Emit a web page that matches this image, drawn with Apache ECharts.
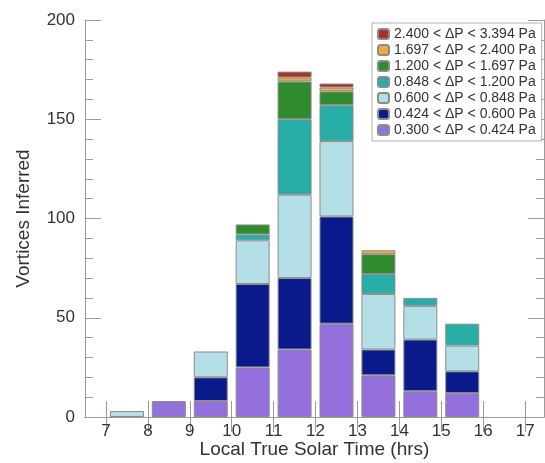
<!DOCTYPE html>
<html><head><meta charset="utf-8">
<script src="https://cdn.jsdelivr.net/npm/echarts@6/dist/echarts.min.js"></script>
<style>html,body{margin:0;padding:0;background:#fff}#c{width:545px;height:463px}</style>
</head><body><div id="c"></div>
<script>
// Hour bins (bar spans hour h to h+1)
const hourBins = ['7', '8', '9', '10', '11', '12', '13', '14', '15', '16'];
const xTickValues = [7, 8, 9, 10, 11, 12, 13, 14, 15, 16, 17];

// Series values (counts per bin), bottom to top of stack
const dp0300_0424 = [0, 8, 8, 25, 34, 47, 21, 13, 12, 0];
const dp0424_0600 = [0, 0, 12, 42, 36, 54, 13, 26, 11, 0];
const dp0600_0848 = [3, 0, 13, 22, 42, 38, 28, 17, 13, 0];
const dp0848_1200 = [0, 0, 0, 3, 38, 18, 10, 4, 11, 0];
const dp1200_1697 = [0, 0, 0, 5, 19, 7, 10, 0, 0, 0];
const dp1697_2400 = [0, 0, 0, 0, 2, 2, 2, 0, 0, 0];
const dp2400_3394 = [0, 0, 0, 0, 3, 2, 0, 0, 0, 0];

const seriesNames = [
  '0.300 < ΔP < 0.424 Pa',
  '0.424 < ΔP < 0.600 Pa',
  '0.600 < ΔP < 0.848 Pa',
  '0.848 < ΔP < 1.200 Pa',
  '1.200 < ΔP < 1.697 Pa',
  '1.697 < ΔP < 2.400 Pa',
  '2.400 < ΔP < 3.394 Pa'
];
const seriesValues = [dp0300_0424, dp0424_0600, dp0600_0848, dp0848_1200, dp1200_1697, dp1697_2400, dp2400_3394];
const seriesColors = ['#9370db', '#0b1a8a', '#b4dfe6', '#26aea6', '#2e8b2e', '#f2a93b', '#a8322a'];

const axisGray = '#9a9a9a';
const labelColor = '#333';
const fontFam = 'Liberation Sans, Arial, sans-serif';

// layout of the visible frame
const W = 545, H = 463;
const gLeft = 85, gRight = 1, gTop = 20, gBottom = 46;
const xMin = 6.5, xMax = 17.45;
const pxPerHour = (W - gLeft - gRight) / (xMax - xMin);
const barGridLeft = gLeft + (7 - xMin) * pxPerHour;
const barGridRight = gRight + (xMax - 17) * pxPerHour;

const series = seriesNames.map((name, i) => ({
  name: name,
  type: 'bar',
  stack: 'total',
  xAxisIndex: 2,
  yAxisIndex: 2,
  barWidth: 34,
  itemStyle: { color: seriesColors[i], borderColor: '#8c8c8c', borderWidth: 1 },
  data: seriesValues[i].map(v => (v > 0 ? v : '-'))
}));

const chart = echarts.init(document.getElementById('c'), null, { renderer: 'canvas' });
chart.setOption({
  animation: false,
  backgroundColor: '#fff',
  grid: [
    { left: gLeft, right: gRight, top: gTop, bottom: gBottom, containLabel: false, outerBoundsMode: 'none' },
    { left: barGridLeft, right: barGridRight, top: gTop, bottom: gBottom, containLabel: false, outerBoundsMode: 'none' }
  ],
  legend: {
    orient: 'vertical',
    left: 372,
    top: 23,
    padding: [4, 6, 4, 5],
    itemWidth: 11,
    itemHeight: 10,
    itemGap: 2,
    backgroundColor: '#fff',
    borderColor: '#b0b0b0',
    borderWidth: 1,
    textStyle: { fontFamily: fontFam, fontSize: 14, color: '#333' },
    data: seriesNames.slice().reverse()
  },
  xAxis: [
    {
      gridIndex: 0, type: 'value', position: 'bottom', min: xMin, max: xMax,
      name: 'Local True Solar Time (hrs)', nameLocation: 'middle', nameGap: 23, nameMoveOverlap: false,
      nameTextStyle: { fontFamily: fontFam, fontSize: 19, color: labelColor },
      axisLine: { show: true, lineStyle: { color: axisGray, width: 1 } },
      axisTick: { show: true, inside: true, length: 16, customValues: xTickValues, lineStyle: { color: axisGray } },
      axisLabel: { show: true, customValues: xTickValues, fontFamily: fontFam, fontSize: 17, color: labelColor, margin: 6 },
      splitLine: { show: false }
    },
    {
      gridIndex: 0, type: 'value', position: 'top', min: xMin, max: xMax,
      axisLine: { show: true, lineStyle: { color: axisGray, width: 1 } },
      axisTick: { show: true, inside: true, length: 15, customValues: xTickValues, lineStyle: { color: axisGray } },
      axisLabel: { show: false },
      splitLine: { show: false }
    },
    {
      gridIndex: 1, type: 'category', data: hourBins, boundaryGap: true, show: false
    }
  ],
  yAxis: [
    {
      gridIndex: 0, type: 'value', position: 'left', min: 0, max: 200, interval: 50,
      name: 'Vortices Inferred', nameLocation: 'middle', nameGap: 52, nameMoveOverlap: false,
      nameTextStyle: { fontFamily: fontFam, fontSize: 19, color: labelColor },
      axisLine: { show: true, lineStyle: { color: axisGray, width: 1 } },
      axisTick: { show: true, inside: true, length: 16, lineStyle: { color: axisGray } },
      minorTick: { show: true, splitNumber: 5, length: 8, lineStyle: { color: axisGray } },
      axisLabel: { fontFamily: fontFam, fontSize: 17, color: labelColor, margin: 10 },
      splitLine: { show: false }
    },
    {
      gridIndex: 0, type: 'value', position: 'right', min: 0, max: 200, interval: 50,
      axisLine: { show: true, lineStyle: { color: axisGray, width: 1 } },
      axisTick: { show: true, inside: true, length: 16, lineStyle: { color: axisGray } },
      minorTick: { show: true, splitNumber: 5, length: 8, lineStyle: { color: axisGray } },
      axisLabel: { show: false },
      splitLine: { show: false }
    },
    {
      gridIndex: 1, type: 'value', min: 0, max: 200, show: false, splitLine: { show: false }
    }
  ],
  series: series
});
</script>
</body></html>
